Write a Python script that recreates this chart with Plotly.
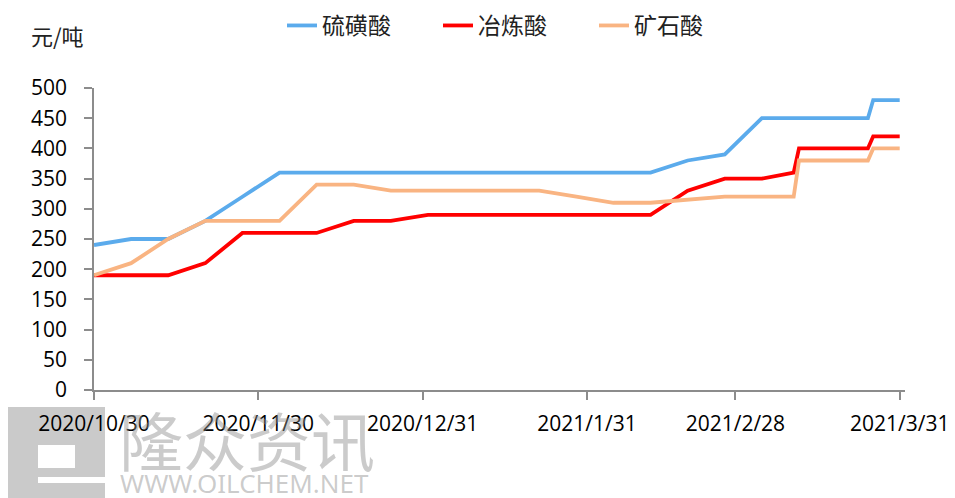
import plotly.graph_objects as go

dates = ["2020-10-30", "2020-11-06", "2020-11-13", "2020-11-20", "2020-11-27",
         "2020-12-04", "2020-12-11", "2020-12-18", "2020-12-25", "2021-01-01",
         "2021-01-08", "2021-01-15", "2021-01-22", "2021-01-29", "2021-02-05",
         "2021-02-12", "2021-02-19", "2021-02-26", "2021-03-05", "2021-03-11",
         "2021-03-12", "2021-03-19", "2021-03-25", "2021-03-26", "2021-03-31"]

sulfur_acid = [240, 250, 250, 280, 320, 360, 360, 360, 360, 360,
               360, 360, 360, 360, 360, 360, 380, 390, 450, 450,
               450, 450, 450, 480, 480]
smelter_acid = [190, 190, 190, 210, 260, 260, 260, 280, 280, 290,
                290, 290, 290, 290, 290, 290, 330, 350, 350, 360,
                400, 400, 400, 420, 420]
ore_acid = [190, 210, 250, 280, 280, 280, 340, 340, 330, 330,
            330, 330, 330, 320, 310, 310, 315, 320, 320, 320,
            380, 380, 380, 400, 400]

series_names = ["硫磺酸", "冶炼酸", "矿石酸"]
tick_dates = ["2020-10-30", "2020-11-30", "2020-12-31", "2021-01-31", "2021-02-28", "2021-03-31"]
tick_labels = ["2020/10/30", "2020/11/30", "2020/12/31", "2021/1/31", "2021/2/28", "2021/3/31"]
y_unit = "元/吨"
watermark_cn = "隆众资讯"
watermark_en = "WWW.OILCHEM.NET"

colors = ["#5BABEC", "#FF0000", "#F9B482"]

# The page body has an 8px margin, so the figure starts at (8, 8) in the window.
OFF = 8
WIN_W, WIN_H = 955, 498
W, H = WIN_W - OFF, WIN_H - OFF
# plot area in window pixels
X0, X1, Y0, Y1 = 94, 905, 88, 390
L, R, T, B = X0 - OFF, WIN_W - X1, Y0 - OFF, WIN_H - Y1
PW, PH = X1 - X0, Y1 - Y0


def px(xp):
    return (xp - X0) / PW


def py(yp):
    return (Y1 - yp) / PH


fig = go.Figure()
for name, vals, c in zip(series_names, [sulfur_acid, smelter_acid, ore_acid], colors):
    fig.add_trace(go.Scatter(x=dates, y=vals, name=name, mode="lines",
                             line=dict(color=c, width=3.8, shape="linear"),
                             hoverinfo="x+y+name"))

axis_gray = "#8C8C8C"
tick_font = dict(family="Open Sans, Liberation Sans, sans-serif", size=21, color="#000000")
cjk = "Noto Sans CJK SC, sans-serif"

fig.update_layout(
    width=W, height=H,
    margin=dict(l=L, r=R, t=T, b=B, autoexpand=False),
    paper_bgcolor="white", plot_bgcolor="white",
    showlegend=True,
    legend=dict(orientation="h", x=px(282), y=py(25.5), xanchor="left", yanchor="middle",
                font=dict(family=cjk, size=23, color="#222222"),
                entrywidth=111, entrywidthmode="pixels",
                bgcolor="rgba(0,0,0,0)", itemclick=False),
    xaxis=dict(type="date", range=["2020-10-30", "2021-04-01"],
               tickmode="array", tickvals=tick_dates, ticktext=tick_labels,
               showgrid=False, zeroline=False, showline=True, linecolor=axis_gray,
               linewidth=1.5, ticks="outside", ticklen=8, tickwidth=1.5, tickcolor=axis_gray,
               tickfont=tick_font, ticklabelstandoff=6, fixedrange=True),
    yaxis=dict(range=[0, 500], tick0=0, dtick=50, showgrid=False, zeroline=False,
               showline=True, linecolor=axis_gray, linewidth=1.5, ticks="outside",
               ticklen=8, tickwidth=1.5, tickcolor=axis_gray, tickfont=tick_font,
               ticklabelstandoff=13, fixedrange=True),
)

# watermark logo (drawn below the plot)
wm = "#CACACA"
fig.add_shape(type="rect", xref="paper", yref="paper", x0=px(8), x1=px(105), y0=py(498), y1=py(407),
              fillcolor=wm, line=dict(width=0), layer="below")
fig.add_shape(type="rect", xref="paper", yref="paper", x0=px(38), x1=px(75), y0=py(468), y1=py(445),
              fillcolor="white", line=dict(width=0), layer="below")
fig.add_shape(type="rect", xref="paper", yref="paper", x0=px(38), x1=px(106), y0=py(483), y1=py(477),
              fillcolor="white", line=dict(width=0), layer="below")

fig.add_annotation(text=watermark_cn, xref="paper", yref="paper", x=px(117), y=py(438),
                   xanchor="left", yanchor="middle", showarrow=False,
                   font=dict(family=cjk, size=64, color="rgba(140,140,140,0.45)"))
fig.add_annotation(text=watermark_en, xref="paper", yref="paper", x=px(118), y=py(483),
                   xanchor="left", yanchor="middle", showarrow=False,
                   font=dict(family="Noto Sans, sans-serif", size=26, color="rgba(140,140,140,0.45)"))

fig.add_annotation(text=y_unit, xref="paper", yref="paper", x=px(29), y=py(35),
                   xanchor="left", yanchor="middle", showarrow=False,
                   font=dict(family=cjk, size=22, color="#222222"))

fig.write_html("out.html")
